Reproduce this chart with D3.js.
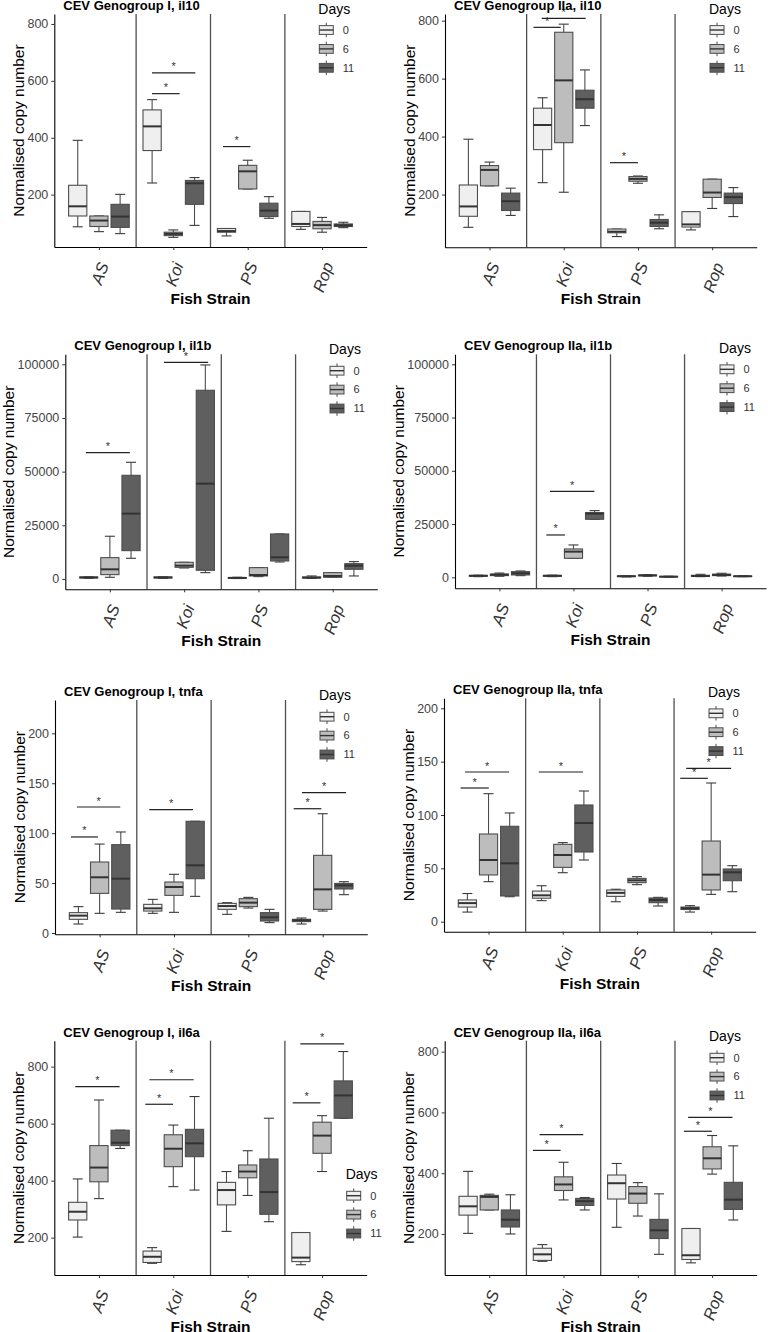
<!DOCTYPE html>
<html><head><meta charset="utf-8">
<script src="https://cdn.jsdelivr.net/npm/d3@7"></script>
<style>body{margin:0;background:#fff} svg{display:block;font-family:"Liberation Sans",Arial,sans-serif}</style>
</head><body>
<svg id="chart" width="768" height="1332"></svg>
<script>
// ---------------- DATA ----------------
const strains = ["AS", "Koi", "PS", "Rop"];
const days = ["0", "6", "11"];
const panelTitles = [
  "CEV Genogroup I, il10", "CEV Genogroup IIa, il10",
  "CEV Genogroup I, il1b", "CEV Genogroup IIa, il1b",
  "CEV Genogroup I, tnfa", "CEV Genogroup IIa, tnfa",
  "CEV Genogroup I, il6a", "CEV Genogroup IIa, il6a"
];
const ticks_il10 = [200, 400, 600, 800];
const ticks_il1b = [0, 25000, 50000, 75000, 100000];
const ticks_tnfa = [0, 50, 100, 150, 200];
const ticks_il6a = [200, 400, 600, 800];

// box stats: [lower whisker, Q1, median, Q3, upper whisker]; rows = strains, cols = days 0/6/11
const il10_I = [
  [[87,125,159,233,391],[70,88,109,125,125],[63,85,123,166,201]],
  [[241,355,440,498,534],[50,56,62,68,76],[92,166,240,250,260]],
  [[55,68,72,81,81],[220,220,282,303,321],[117,123,144,170,193]],
  [[78,88,97,141,141],[68,80,93,106,120],[84,88,92,97,103]]
];
const il10_IIa = [
  [[87,125,159,233,391],[230,230,285,300,312],[128,145,177,205,222]],
  [[241,355,440,498,534],[208,379,594,760,788],[438,498,529,560,630]],
  [[55,68,72,81,81],[239,246,254,262,264],[82,90,103,114,130]],
  [[78,88,97,141,141],[152,190,207,253,253],[124,169,191,205,224]]
];
const il1b_I = [
  [[300,500,700,900,1000],[780,2020,4500,9940,19900],[9630,13200,30435,48290,54350]],
  [[300,500,700,900,1000],[5120,5430,6210,7760,7760],[2950,4040,44400,87900,99700]],
  [[200,350,500,650,800],[1090,1400,1860,5280,5280],[7920,8385,10090,20960,20960]],
  [[310,470,620,930,1400],[780,780,1400,2950,2950],[1400,4500,6210,7140,8075]]
];
const il1b_IIa = [
  [[300,500,700,900,1000],[500,800,1250,1500,2000],[780,1100,1880,2660,2970]],
  [[300,500,700,900,1000],[8920,8920,12050,13300,15180],[27230,27230,29890,30360,31300]],
  [[200,350,500,650,800],[500,700,900,1100,1200],[100,200,300,400,500]],
  [[310,470,620,930,1400],[600,800,1100,1500,1900],[300,400,500,600,700]]
];
const tnfa_I = [
  [[9.0,13.7,17.4,20.4,26.4],[19.7,39.7,55.8,71.1,89.1],[20.7,24.0,54.4,88.5,101.2]],
  [[19.7,22.0,24.7,28.7,33.7],[20.7,37.7,46.1,51.1,58.8],[36.7,54.4,67.8,111.9,111.9]],
  [[18.7,23.7,27.0,29.7,30.4],[25.0,26.4,30.4,34.4,35.7],[10.4,12.0,15.7,20.4,23.7]],
  [[9.0,11.4,12.7,13.7,15.0],[22.0,23.7,43.7,77.8,119.5],[38.4,44.1,47.7,49.7,51.4]]
];
const tnfa_IIa = [
  [[9.0,13.7,17.4,20.4,26.4],[37.5,43.8,57.8,82.2,120],[23.4,24.1,54.7,89.4,101.9]],
  [[19.7,22.0,24.7,28.7,33.7],[45.9,50.9,62.5,72.5,74.1],[57.8,65.3,92.5,109.4,122.5]],
  [[18.7,23.7,27.0,29.7,30.4],[34.7,36.6,38.75,40.6,42.2],[14.7,17.8,20.3,22.2,22.8]],
  [[9.0,11.4,12.7,13.7,15.0],[25.6,29.7,44.1,75.6,130],[28.1,38.4,46.3,49.4,52.5]]
];
const il6a_I = [
  [[202,262,291,324,406],[337,396,446,523,683],[513,523,533,577,577]],
  [[110,113,133,153,165],[379,449,512,561,595],[367,484,531,580,695]],
  [[222,315,367,394,432],[348,410,432,455,505],[256,282,360,476,619]],
  [[105,116,130,218,218],[432,496,558,605,628],[619,619,699,750,853]]
];
const il6a_IIa = [
  [[202,262,291,324,406],[279,279,322,327,331],[200,223,247,279,329]],
  [[110,113,133,153,165],[312,343,363,388,436],[279,294,308,317,320]],
  [[222,315,367,394,432],[259,301,333,356,369],[133,185,212,248,332]],
  [[105,116,130,218,218],[397,414,449,487,524],[246,281,313,370,490]]
];

// significance brackets: [strain index, start offset, end offset (category units), y value]
const sig_il10_I   = [[1,-0.287,0.085,555],[1,-0.287,0.296,628],[2,-0.332,0.036,369]];
const sig_il10_IIa = [[1,-0.408,-0.040,777],[1,-0.296,0.296,808],[2,-0.377,0,310]];
const sig_il1b_I   = [[0,-0.323,0.269,58850],[1,-0.273,0.323,100930]];
const sig_il1b_IIa = [[1,-0.367,-0.116,19870],[1,-0.318,0.282,40375]];
const sig_tnfa_I   = [[0,-0.386,-0.022,96.2],[0,-0.305,0.278,126.2],[1,-0.332,0.256,123.5],[3,-0.390,-0.018,124.5],[3,-0.278,0.314,140.6]];
const sig_tnfa_IIa = [[0,-0.377,0.004,125.3],[0,-0.318,0.278,140.3],[1,-0.323,0.274,140.3],[3,-0.417,-0.045,134.4],[3,-0.336,0.269,143.75]];
const sig_il6a_I   = [[0,-0.318,0.278,730],[1,-0.377,-0.004,668],[1,-0.323,0.274,754],[3,-0.395,-0.022,673],[3,-0.292,0.296,880]];
const sig_il6a_IIa = [[1,-0.413,-0.040,475],[1,-0.323,0.265,527],[3,-0.381,-0.004,538],[3,-0.323,0.274,584]];

// ---------------- LAYOUT / STYLE ----------------
const dayFill = ["#efefef", "#bdbdbd", "#5f5f5f"];
const dodge = [-0.285, 0, 0.285];
const boxW = 0.245, capW = 0.135;

const panels = [
  {data: il10_I,   sig: sig_il10_I,   ticks: ticks_il10, dom: [16, 835],        L: 54.3,  R: 366.7, T: 14,     B: 247,    legX: 319.3, legY: 30},
  {data: il10_IIa, sig: sig_il10_IIa, ticks: ticks_il10, dom: [18, 823],        L: 445,   R: 756.7, T: 14,     B: 247.3,  legX: 710,   legY: 30},
  {data: il1b_I,   sig: sig_il1b_I,   ticks: ticks_il1b, dom: [-4814, 104660],  L: 65.3,  R: 377.3, T: 354.3,  B: 589.3,  legX: 330,   legY: 370.7},
  {data: il1b_IIa, sig: sig_il1b_IIa, ticks: ticks_il1b, dom: [-5164, 104690],  L: 455,   R: 766,   T: 354.3,  B: 588.3,  legX: 720,   legY: 369.3},
  {data: tnfa_I,   sig: sig_tnfa_I,   ticks: ticks_tnfa, dom: [-1.3, 233.4],    L: 55,    R: 367.3, T: 700,    B: 934.3,  legX: 320,   legY: 716.7},
  {data: tnfa_IIa, sig: sig_tnfa_IIa, ticks: ticks_tnfa, dom: [-9.4, 209.4],    L: 444,   R: 755.7, T: 698.3,  B: 931.7,  legX: 709,   legY: 713.3},
  {data: il6a_I,   sig: sig_il6a_I,   ticks: ticks_il6a, dom: [69, 891],        L: 54.3,  R: 366.7, T: 1040.7, B: 1275,   legX: 346.7, legY: 1195.7},
  {data: il6a_IIa, sig: sig_il6a_IIa, ticks: ticks_il6a, dom: [65, 836],        L: 444.7, R: 756.7, T: 1040.7, B: 1275,   legX: 710,   legY: 1057.7}
];

const svg = d3.select("#chart");
svg.append("rect").attr("width", 768).attr("height", 1332).attr("fill", "#fff");

panels.forEach((P, pi) => {
  const g = svg.append("g");
  const x = d3.scaleLinear().domain([0.4, 4.6]).range([P.L, P.R]);
  const y = d3.scaleLinear().domain(P.dom).range([P.B, P.T]);
  const unit = x(2) - x(1);

  // strain dividers
  [1.5, 2.5, 3.5].forEach(v => {
    g.append("line").attr("x1", x(v)).attr("x2", x(v)).attr("y1", P.T).attr("y2", P.B)
      .attr("stroke", "#4f4f4f").attr("stroke-width", 1.3);
  });

  // boxplots
  P.data.forEach((arr, si) => arr.forEach((s, di) => {
    const cx = x(si + 1 + dodge[di]);
    const hw = unit * boxW / 2, cw = unit * capW / 2;
    const [lo, q1, md, q3, hi] = s;
    const bg = g.append("g");
    bg.append("line").attr("x1", cx).attr("x2", cx).attr("y1", y(lo)).attr("y2", y(hi))
      .attr("stroke", "#4d4d4d").attr("stroke-width", 1.1);
    [lo, hi].forEach(v => bg.append("line").attr("x1", cx - cw).attr("x2", cx + cw)
      .attr("y1", y(v)).attr("y2", y(v)).attr("stroke", "#3a3a3a").attr("stroke-width", 1.1));
    bg.append("rect").attr("x", cx - hw).attr("width", 2 * hw)
      .attr("y", y(q3)).attr("height", Math.max(0.5, y(q1) - y(q3)))
      .attr("fill", dayFill[di]).attr("stroke", "#4d4d4d").attr("stroke-width", 1.1);
    bg.append("line").attr("x1", cx - hw).attr("x2", cx + hw).attr("y1", y(md)).attr("y2", y(md))
      .attr("stroke", "#333").attr("stroke-width", 2);
  }));

  // significance brackets
  P.sig.forEach(([si, a, b, v]) => {
    const x1 = x(si + 1 + a), x2 = x(si + 1 + b);
    g.append("line").attr("x1", x1).attr("x2", x2).attr("y1", y(v)).attr("y2", y(v))
      .attr("stroke", "#222").attr("stroke-width", 1.2);
    g.append("text").attr("x", (x1 + x2) / 2).attr("y", y(v) - 2.5).attr("text-anchor", "middle")
      .attr("font-size", 11).attr("fill", "#333").text("*");
  });

  // y axis
  const ya = g.append("g").attr("transform", `translate(${P.L},0)`)
    .call(d3.axisLeft(y).tickValues(P.ticks).tickSize(3).tickSizeOuter(0).tickPadding(3).tickFormat(d3.format("d")));
  ya.select(".domain").attr("stroke", "#000").attr("stroke-width", 1.1);
  ya.selectAll(".tick line").attr("stroke", "#333");
  ya.selectAll(".tick text").attr("font-size", 12.5).attr("fill", "#444")
    .attr("font-family", "Liberation Sans, Arial, sans-serif");
  let maxW = 0;
  ya.selectAll(".tick text").each(function () { maxW = Math.max(maxW, this.getComputedTextLength()); });

  // x axis
  const xa = g.append("g").attr("transform", `translate(0,${P.B})`)
    .call(d3.axisBottom(x).tickValues([1, 2, 3, 4]).tickSize(3).tickSizeOuter(0).tickFormat(i => strains[i - 1]));
  xa.select(".domain").attr("stroke", "#000").attr("stroke-width", 1.1);
  xa.selectAll(".tick line").attr("stroke", "#333");
  xa.selectAll(".tick text")
    .attr("font-size", 16.5).attr("font-style", "italic").attr("fill", "#333")
    .attr("font-family", "Liberation Sans, Arial, sans-serif")
    .attr("text-anchor", "end").attr("dy", "0.35em").attr("x", 0).attr("y", 0)
    .each(function () {
      const L = this.getComputedTextLength();
      d3.select(this).attr("transform", `translate(${0.171 * L + 0.5},16) rotate(-70)`);
    });

  // axis titles
  g.append("text").attr("transform", `translate(${P.L - 6 - maxW - 9},${(P.T + P.B) / 2}) rotate(-90)`)
    .attr("text-anchor", "middle").attr("dy", "0.35em").attr("font-size", 15.5).attr("fill", "#000")
    .text("Normalised copy number");
  g.append("text").attr("x", (P.L + P.R) / 2).attr("y", P.B + 57).attr("text-anchor", "middle")
    .attr("font-size", 15.5).attr("font-weight", "bold").attr("fill", "#000").text("Fish Strain");

  // panel title
  g.append("text").attr("x", P.L + 9).attr("y", P.T - 4).attr("font-size", 13).attr("font-weight", "bold")
    .attr("fill", "#000").text(panelTitles[pi]);

  // legend
  const lg = g.append("g");
  lg.append("text").attr("x", P.legX - 1).attr("y", P.legY - 16.5).attr("font-size", 14).attr("fill", "#000").text("Days");
  days.forEach((d, di) => {
    const cy = P.legY + di * 18.9, kx = P.legX, kw = 14;
    lg.append("line").attr("x1", kx + kw / 2).attr("x2", kx + kw / 2).attr("y1", cy - 7.3).attr("y2", cy + 7.3)
      .attr("stroke", "#4d4d4d").attr("stroke-width", 1);
    lg.append("rect").attr("x", kx).attr("y", cy - 4.4).attr("width", kw).attr("height", 8.8)
      .attr("fill", dayFill[di]).attr("stroke", "#4d4d4d").attr("stroke-width", 1);
    lg.append("line").attr("x1", kx).attr("x2", kx + kw).attr("y1", cy).attr("y2", cy)
      .attr("stroke", "#333").attr("stroke-width", 1.4);
    lg.append("text").attr("x", kx + kw + 9.5).attr("y", cy).attr("dy", "0.35em")
      .attr("font-size", 11).attr("fill", "#333").text(d);
  });
});
</script>
</body></html>
